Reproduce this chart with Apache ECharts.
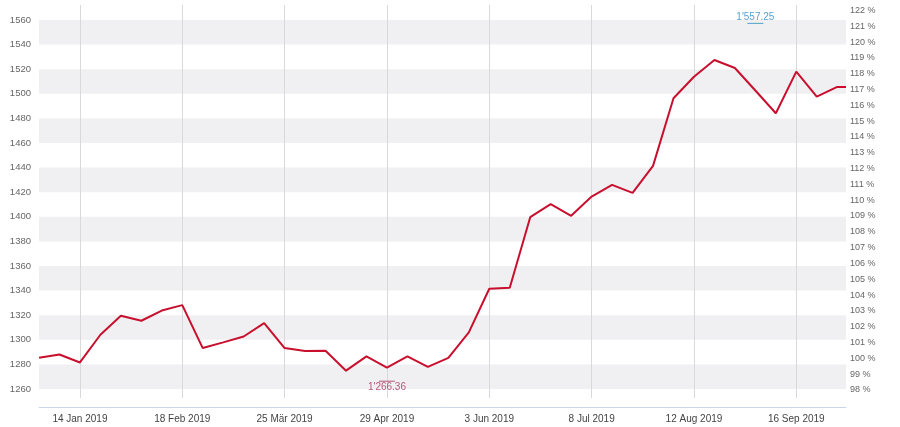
<!DOCTYPE html>
<html>
<head>
<meta charset="utf-8">
<script src="https://cdn.jsdelivr.net/npm/echarts@6/dist/echarts.min.js"></script>
<style>
  html, body { margin: 0; padding: 0; background: #fff; }
  #chart { width: 900px; height: 427px; }
</style>
</head>
<body>
<div id="chart"></div>
<script>
// weekly closes
const dates = [
  "2018-12-31", "2019-01-07", "2019-01-14", "2019-01-21", "2019-01-28", "2019-02-04",
  "2019-02-11", "2019-02-18", "2019-02-25", "2019-03-04", "2019-03-11", "2019-03-18",
  "2019-03-25", "2019-04-01", "2019-04-08", "2019-04-15", "2019-04-22", "2019-04-29",
  "2019-05-06", "2019-05-13", "2019-05-20", "2019-05-27", "2019-06-03", "2019-06-10",
  "2019-06-17", "2019-06-24", "2019-07-01", "2019-07-08", "2019-07-15", "2019-07-22",
  "2019-07-29", "2019-08-05", "2019-08-12", "2019-08-19", "2019-08-26", "2019-09-02",
  "2019-09-09", "2019-09-16", "2019-09-23", "2019-09-30", "2019-10-03"
];
const values = [
  1285.4, 1288.1, 1281.6, 1304.1, 1319.5, 1315.5,
  1323.8, 1328.2, 1293.3, 1297.9, 1302.7, 1313.6,
  1293.3, 1290.9, 1291.1, 1274.9, 1286.5, 1277.3,
  1286.5, 1278.0, 1285.3, 1306.0, 1341.5, 1342.3,
  1399.7, 1410.3, 1400.8, 1416.5, 1426.0, 1419.5,
  1441.4, 1496.4, 1513.9, 1527.5, 1521.0, 1502.7,
  1484.2, 1518.0, 1497.7, 1505.6, 1505.6
];

// x axis ticks
const tickDates = ["2019-01-14", "2019-02-18", "2019-03-25", "2019-04-29",
                   "2019-06-03", "2019-07-08", "2019-08-12", "2019-09-16"];
const tickLabels = ["14 Jan 2019", "18 Feb 2019", "25 Mär 2019", "29 Apr 2019",
                    "3 Jun 2019", "8 Jul 2019", "12 Aug 2019", "16 Sep 2019"];

// y axis ticks
const yTicks = [1260, 1280, 1300, 1320, 1340, 1360, 1380, 1400, 1420,
                1440, 1460, 1480, 1500, 1520, 1540, 1560];
const pctTicks = [98, 99, 100, 101, 102, 103, 104, 105, 106, 107, 108, 109, 110,
                  111, 112, 113, 114, 115, 116, 117, 118, 119, 120, 121, 122];

// high / low markers
const highDate = "2019-09-02";
const highValue = 1557.25;
const lowDate = "2019-04-29";
const lowValue = 1266.36;

const base = 1285;      // 100 %
const yMin = 1252.7;
const yMax = 1572.2;

const ts = (d) => Date.parse(d + "T00:00:00Z");
const fmt = (v) => {
  const [i, f] = v.toFixed(2).split(".");
  return i.replace(/\B(?=(\d{3})+(?!\d))/g, "'") + "." + f;
};

const lineData = dates.map((d, i) => [ts(d), values[i]]);
const tickTs = tickDates.map(ts);

// alternate bands, every other 20-step, starting at the top one
const bands = [];
for (let i = yTicks.length - 1; i > 0; i -= 2) {
  bands.push([{ yAxis: yTicks[i - 1] }, { yAxis: yTicks[i] }]);
}

const chart = echarts.init(document.querySelector("#chart"));

chart.setOption({
  animation: false,
  grid: { left: 39, right: 54, top: 5, bottom: 29, outerBoundsMode: "none" },
  xAxis: {
    type: "value",
    min: ts(dates[0]),
    max: ts(dates[dates.length - 1]),
    offset: 9,
    axisLine: { show: true, lineStyle: { color: "#ccd6eb", width: 1 } },
    axisTick: { show: false },
    splitLine: { show: false },
    axisLabel: {
      customValues: tickTs,
      margin: 7,
      fontSize: 10,
      color: "#444",
      fontFamily: "Liberation Sans, Arial, sans-serif",
      formatter: (v) => tickLabels[tickTs.indexOf(v)] || ""
    }
  },
  yAxis: [
    {
      type: "value",
      min: yMin,
      max: yMax,
      position: "left",
      axisLine: { show: false },
      axisTick: { show: false },
      splitLine: { show: false },
      axisLabel: {
        customValues: yTicks,
        margin: 8,
        fontSize: 9.5,
        color: "#666",
        fontFamily: "Liberation Sans, Arial, sans-serif",
        formatter: (v) => String(v)
      }
    },
    {
      type: "value",
      min: yMin / base * 100,
      max: yMax / base * 100,
      position: "right",
      axisLine: { show: false },
      axisTick: { show: false },
      splitLine: { show: false },
      axisLabel: {
        customValues: pctTicks,
        margin: 4,
        fontSize: 9,
        color: "#666",
        fontFamily: "Liberation Sans, Arial, sans-serif",
        formatter: (v) => v + " %"
      }
    }
  ],
  series: [
    {
      type: "line",
      data: lineData,
      showSymbol: false,
      symbol: "none",
      z: 3,
      lineStyle: { color: "#c8102e", width: 2 },
      markArea: {
        silent: true,
        z: 1,
        itemStyle: { color: "#f0f0f2" },
        data: bands
      },
      markLine: {
        silent: true,
        z: 1,
        symbol: "none",
        label: { show: false },
        lineStyle: { color: "#d9d9d9", width: 1, type: "solid" },
        data: tickTs.map((t) => ({ xAxis: t }))
      }
    },
    {
      type: "scatter",
      z: 4,
      symbol: "rect",
      symbolSize: [16, 1],
      data: [
        {
          value: [ts(highDate), highValue],
          itemStyle: { color: "#2b8cc4" },
          label: { show: true, position: "top", distance: 1, color: "#2b8cc4" }
        },
        {
          value: [ts(lowDate), lowValue],
          itemStyle: { color: "#a8325a" },
          label: { show: true, position: "bottom", distance: 1, color: "#a8325a" }
        }
      ],
      label: {
        fontSize: 10,
        fontFamily: "Liberation Sans, Arial, sans-serif",
        formatter: (p) => fmt(p.value[1])
      }
    }
  ]
});
</script>
</body>
</html>
